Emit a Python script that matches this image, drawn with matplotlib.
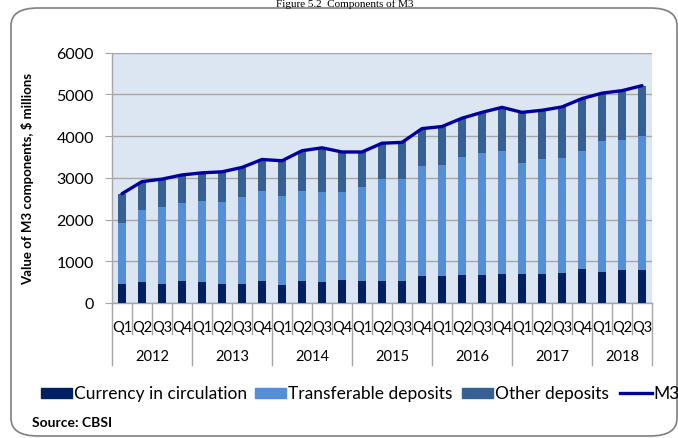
import matplotlib.pyplot as plt
import matplotlib.transforms as mtransforms
from matplotlib.patches import FancyBboxPatch, Rectangle
from matplotlib.lines import Line2D
import numpy as np

plt.rcParams['font.family'] = ['Lato', 'DejaVu Sans']

# quarterly data, 2012 Q1 .. 2018 Q3 ($ millions)
years = ['2012', '2013', '2014', '2015', '2016', '2017', '2018']
quarters = ['Q1', 'Q2', 'Q3', 'Q4'] * 6 + ['Q1', 'Q2', 'Q3']
currency = [465, 495, 465, 530, 495, 465, 465, 530, 430, 530, 495, 560, 530, 530,
            530, 640, 640, 670, 670, 705, 705, 705, 730, 815, 750, 785, 785]
transferable = [1450, 1730, 1840, 1870, 1950, 1960, 2080, 2160, 2140, 2160, 2160, 2095, 2240, 2440,
                2440, 2650, 2670, 2840, 2930, 2945, 2655, 2750, 2750, 2830, 3130, 3130, 3210]
other = [705, 685, 665, 670, 675, 720, 705, 750, 840, 960, 1065, 965, 850, 860,
         880, 890, 920, 920, 970, 1040, 1210, 1165, 1220, 1255, 1150, 1175, 1215]
m3 = [2620, 2910, 2970, 3070, 3120, 3145, 3250, 3440, 3410, 3650, 3720, 3620, 3620, 3830,
      3850, 4180, 4230, 4430, 4570, 4690, 4570, 4620, 4700, 4900, 5030, 5090, 5210]

c_cur = '#002060'
c_tra = '#558ED5'
c_oth = '#366092'
c_m3 = '#0000A0'
grid_c = '#A6A6A6'

W, H = 678, 439
fig = plt.figure(figsize=(W / 100, H / 100), dpi=100)
ax = fig.add_axes([112 / W, 1 - 304 / H, 540 / W, 250.3 / H])
ax.set_facecolor('#DCE6F2')

x = np.arange(len(currency))
w = 0.42
ax.bar(x, currency, w, color=c_cur, zorder=3)
ax.bar(x, transferable, w, bottom=currency, color=c_tra, zorder=3)
ax.bar(x, other, w, bottom=np.add(currency, transferable), color=c_oth, zorder=3)
ax.plot(x, m3, color=c_m3, lw=2.4, zorder=4, solid_capstyle='round')

ax.set_xlim(-0.5, len(x) - 0.5)
ax.set_ylim(0, 6000)
ax.set_yticks(range(0, 6001, 1000))
ax.yaxis.grid(True, color=grid_c, lw=1.0, zorder=1)
ax.tick_params(axis='y', length=5, color=grid_c, labelsize=11.5, pad=8)
for s in ['top', 'right']:
    ax.spines[s].set_visible(False)
for s in ['left', 'bottom']:
    ax.spines[s].set_color(grid_c)
    ax.spines[s].set_linewidth(1.0)

ax.set_xticks(x)
ax.set_xticklabels(quarters, fontsize=10.5)
ax.tick_params(axis='x', length=0, pad=12)

# multi-level category axis separators
trans = mtransforms.blended_transform_factory(ax.transData, ax.transAxes)
ah = 250.3
for b in np.arange(-0.5, len(x), 1.0):
    idx = int(b + 0.5)
    long_line = idx % 4 == 0 or idx == len(x)
    y_end = -(62 if long_line else 31) / ah
    ax.plot([b, b], [0, y_end], color=grid_c, lw=1.0, transform=trans, clip_on=False)
for i, yr in enumerate(years):
    start = i * 4
    stop = min(start + 4, len(x))
    ax.text((start + stop - 1) / 2, -53 / ah, yr, transform=trans, ha='center', va='center',
            fontsize=10.5)

ax.set_ylabel('Value of M3 components, $ millions', fontsize=9.5, fontweight='bold')
ax.yaxis.set_label_coords(-78 / 540, 0.5)

# legend row laid out like the source chart
leg_y = 394
items = [(41, 'patch', c_cur, 'Currency in circulation'),
         (255, 'patch', c_tra, 'Transferable deposits'),
         (462, 'patch', c_oth, 'Other deposits'),
         (620, 'line', c_m3, 'M3')]
for x0, kind, col, lab in items:
    if kind == 'patch':
        fig.patches.append(Rectangle((x0 / W, 1 - (leg_y + 5) / H), 31 / W, 10 / H,
                                     color=col, transform=fig.transFigure))
    else:
        fig.lines.append(Line2D([x0 / W, (x0 + 32) / W], [1 - leg_y / H] * 2, color=col,
                                lw=2.4, transform=fig.transFigure))
    fig.text((x0 + 33) / W, 1 - leg_y / H, lab, fontsize=12.5, va='center', ha='left')

fig.text(32 / W, 1 - 423 / H, 'Source: CBSI', fontsize=10, fontweight='bold', va='center')
fig.text(345 / W, 1 - 7 / H, 'Figure 5.2  Components of M3', fontsize=8,
         family='Liberation Serif', ha='center', va='baseline')

frame = FancyBboxPatch((11 / W, 1 - 437 / H), 666 / W, 428 / H,
                       boxstyle='round,pad=0,rounding_size=0.04', transform=fig.transFigure,
                       fill=False, edgecolor='#7F7F7F', lw=1.2, zorder=0)
fig.patches.append(frame)

fig.savefig('out.png', dpi=100)
